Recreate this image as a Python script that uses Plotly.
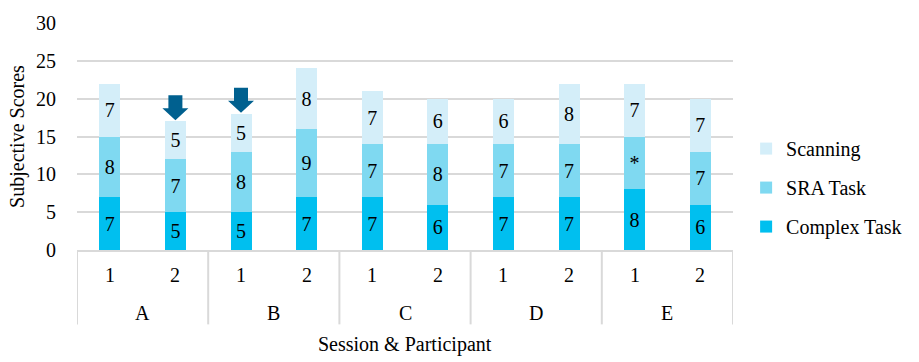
import plotly.graph_objects as go

# Session & participant labels
participants = ["A", "B", "C", "D", "E"]
sessions = ["1", "2"]

# Subjective scores per component (ordered A1, A2, B1, B2, ... E2)
complex_task = [7, 5, 5, 7, 7, 6, 7, 7, 8, 6]
sra_task = [8, 7, 8, 9, 7, 8, 7, 7, 7, 7]
scanning = [7, 5, 5, 8, 7, 6, 6, 8, 7, 7]

# Text shown on SRA segments (one value is flagged)
sra_text = ["8", "7", "8", "9", "7", "8", "7", "7", "*", "7"]

# Bars marked with an arrow (index into the bar list)
flagged = [1, 2]

y_ticks = [0, 5, 10, 15, 20, 25, 30]

FONT = "Liberation Serif, Times New Roman, serif"
C_COMPLEX = "#00BFEF"
C_SRA = "#7FD9F1"
C_SCAN = "#D4EEF9"
C_ARROW = "#00608F"
GRID = "#D9D9D9"

n = len(participants) * len(sessions)
xs = list(range(n))
session_labels = [s for _ in participants for s in sessions]

fig = go.Figure()
series = [
    ("Complex Task", complex_task, [str(v) for v in complex_task], C_COMPLEX, 3),
    ("SRA Task", sra_task, sra_text, C_SRA, 2),
    ("Scanning", scanning, [str(v) for v in scanning], C_SCAN, 1),
]
for name, vals, txt, col, rank in series:
    fig.add_trace(go.Bar(
        x=xs, y=vals, name=name, text=txt,
        marker=dict(color=col, line=dict(width=0)),
        textposition="inside", insidetextanchor="middle",
        textangle=0, constraintext="none",
        textfont=dict(family=FONT, size=20, color="black"),
        legendgroup=name, legendrank=rank, hoverinfo="skip",
    ))

totals = [a + b + c for a, b, c in zip(complex_task, sra_task, scanning)]

shapes = []
# arrows pointing at flagged bars
arrow_path = "M0,1 L-13,13 L-7,13 L-7,26 L7,26 L7,13 L13,13 Z"
for i in flagged:
    shapes.append(dict(
        type="path", xref="x", yref="y",
        xsizemode="pixel", ysizemode="pixel",
        xanchor=xs[i], yanchor=totals[i],
        path=arrow_path, fillcolor=C_ARROW, line=dict(width=0),
    ))

# group dividers below the category axis
div_bottom = -(327 - 250) / 235
per_group = len(sessions)
for g in range(len(participants) + 1):
    xv = g * per_group - 0.5
    shapes.append(dict(
        type="line", xref="x", yref="paper",
        x0=xv, x1=xv, y0=0, y1=div_bottom,
        line=dict(color=GRID, width=2),
    ))

annotations = []
for i, lab in enumerate(session_labels):
    annotations.append(dict(
        x=xs[i], y=-(276 - 250) / 235, xref="x", yref="paper",
        text=lab, showarrow=False, yanchor="middle",
        font=dict(family=FONT, size=20, color="black"),
    ))
for g, lab in enumerate(participants):
    annotations.append(dict(
        x=g * per_group + (per_group - 1) / 2, y=-(315 - 250) / 235,
        xref="x", yref="paper", text=lab, showarrow=False, yanchor="middle",
        font=dict(family=FONT, size=20, color="black"),
    ))
annotations.append(dict(
    x=0.5, y=-(348 - 250) / 235, xref="paper", yref="paper",
    text="Session & Participant", showarrow=False, yanchor="middle",
    font=dict(family=FONT, size=20, color="black"),
))

fig.update_layout(
    width=919, height=362,
    margin=dict(l=77, r=185, t=15, b=112),
    paper_bgcolor="white", plot_bgcolor="white",
    barmode="stack", bargap=0.68,
    font=dict(family=FONT, size=20, color="black"),
    showlegend=True,
    legend=dict(
        x=1.02, xanchor="left", y=0.275, yanchor="middle",
        traceorder="grouped", tracegroupgap=10,
        font=dict(family=FONT, size=20, color="black"),
        bgcolor="rgba(0,0,0,0)",
    ),
    xaxis=dict(
        range=[-0.5, n - 0.5], showticklabels=False, showgrid=False,
        zeroline=False, showline=True, linecolor=GRID, linewidth=2,
        ticks="", fixedrange=True,
    ),
    yaxis=dict(
        range=[0, 30], tickvals=y_ticks, showgrid=True, gridcolor=GRID,
        gridwidth=1.5, zeroline=False, showline=False,
        ticks="outside", ticklen=16, tickcolor="rgba(0,0,0,0)",
        tickfont=dict(family=FONT, size=20, color="black"),
        title=dict(text="Subjective Scores", standoff=6,
                   font=dict(family=FONT, size=20, color="black")),
        fixedrange=True,
    ),
    shapes=shapes,
    annotations=annotations,
)

fig.write_html("out.html")
